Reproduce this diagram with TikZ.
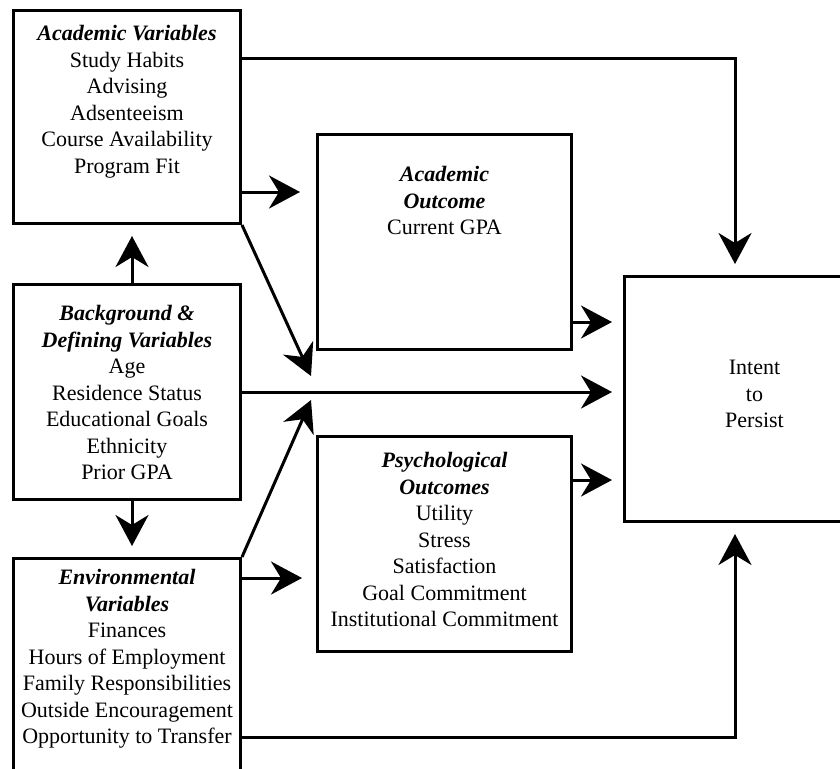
\documentclass[tikz,border=0pt]{standalone}
\usepackage{fontspec}
\setmainfont{Liberation Serif}
\usetikzlibrary{arrows.meta,positioning,calc}
\newcommand{\vartitle}[1]{\textbf{\textit{#1}}}

\begin{document}
\begin{tikzpicture}[x=0.5pt,y=-0.5pt,
    >={Stealth[length=15.5pt,width=16.5pt,inset=5pt]},
    box/.style={draw,line width=1.5pt,rectangle,anchor=north west,inner sep=0pt},
    boxtext/.style={align=center,inner sep=0pt,anchor=north,font=\fontsize{11}{13.25}\selectfont},
    link/.style={->,line width=1.5pt,shorten >=5.5pt}]
    \clip (0,0) rectangle (840,768);
    % Boxes
    \node[box,minimum width=113.5pt,minimum height=106.5pt] (acadvar) at (12,9) {};
    \node[box,minimum width=113.5pt,minimum height=107.5pt] (backgr) at (12,283) {};
    \node[box,minimum width=113.5pt,minimum height=150pt] (environ) at (12,557) {};
    \node[box,minimum width=127pt,minimum height=107.5pt] (acadout) at (316,133) {};
    \node[box,minimum width=127pt,minimum height=107.5pt] (psych) at (316,435) {};
    \node[box,minimum width=130pt,minimum height=122.5pt] (intent) at (623,275) {};

    % Box texts
    \node[boxtext] (acadvartxt) at ($(acadvar.north)+(0,16)$)
        {\vartitle{Academic Variables}\\Study Habits\\Advising\\Adsenteeism\\Course Availability\\Program Fit};
    \node[boxtext] (backgrtxt) at ($(backgr.north)+(0,22)$)
        {\vartitle{Background \&}\\\vartitle{Defining Variables}\\Age\\Residence Status\\Educational Goals\\Ethnicity\\Prior GPA};
    \node[boxtext] (environtxt) at ($(environ.north)+(0,12)$)
        {\vartitle{Environmental}\\\vartitle{Variables}\\Finances\\Hours of Employment\\Family Responsibilities\\Outside Encouragement\\Opportunity to Transfer};
    \node[boxtext] (acadouttxt) at ($(acadout.north)+(0,33)$)
        {\vartitle{Academic}\\\vartitle{Outcome}\\Current GPA};
    \node[boxtext] (psychtxt) at ($(psych.north)+(0,17)$)
        {\vartitle{Psychological}\\\vartitle{Outcomes}\\Utility\\Stress\\Satisfaction\\Goal Commitment\\Institutional Commitment};
    \node[boxtext,anchor=center] (intenttxt) at ($(intent.center)+(0,-5)$) {Intent\\to\\Persist};

    % Free arrow ends
    \coordinate (acadtip) at (311,376);
    \coordinate (envtip) at (311,400);

    % Connectors
    \draw[link] ($(acadvar.north east)+(0,49)$) -| ($(intent.north west)+(112,0)$);
    \draw[link,shorten >=8pt] ($(acadvar.north east)+(0,183)$) -- ($(acadout.north west)+(0,59)$);
    \draw[link,shorten >=0pt] (acadvar.south east) -- (acadtip);
    \draw[link] ($(backgr.north west)+(120,0)$) -- ($(acadvar.south west)+(120,0)$);
    \draw[link] ($(backgr.north east)+(0,109)$) -- ($(intent.north west)+(0,117)$);
    \draw[link] ($(backgr.south west)+(120,0)$) -- ($(environ.north west)+(120,0)$);
    \draw[link,shorten >=0pt] (environ.north east) -- (envtip);
    \draw[link,shorten >=7pt] ($(environ.north east)+(0,21)$) -- ($(psych.north west)+(0,143)$);
    \draw[link] ($(environ.north east)+(0,180)$) -| ($(intent.south west)+(112,0)$);
    \draw[link] ($(acadout.north east)+(0,189)$) -- ($(intent.north west)+(0,47)$);
    \draw[link] ($(psych.north east)+(0,45)$) -- ($(intent.north west)+(0,205)$);
\end{tikzpicture}
\end{document}
